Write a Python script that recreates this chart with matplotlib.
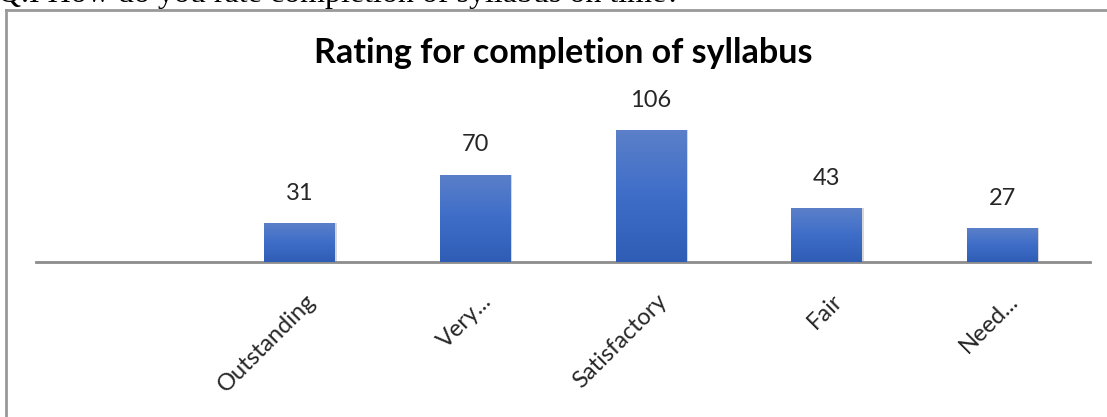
import matplotlib
matplotlib.use("Agg")
import matplotlib.pyplot as plt
import numpy as np
from matplotlib.lines import Line2D
from matplotlib.colors import LinearSegmentedColormap

categories = ["", "Outstanding", "Very...", "Satisfactory", "Fair", "Need..."]
values = [None, 31, 70, 106, 43, 27]
title = "Rating for completion of syllabus"
header = "Q.I How do you rate completion of syllabus on time?"

W, H = 1107, 417
fig = plt.figure(figsize=(W / 100, H / 100), dpi=100)
fig.patch.set_facecolor("white")

# axes placement in pixels
ax_left, ax_right = 36, 1090
base_y = 262
px_per_unit = 1.245
ymax = 150
top_y = base_y - ymax * px_per_unit
ax = fig.add_axes([ax_left / W, (H - base_y) / H, (ax_right - ax_left) / W, (base_y - top_y) / H])

x = np.arange(len(categories))
cmap = LinearSegmentedColormap.from_list("g", ["#2F5DB5", "#3E6DC8", "#5B80C9"])
grad = np.linspace(0, 1, 256).reshape(-1, 1)
bar_w = 0.4
for xi, v in zip(x, values):
    if v is None:
        continue
    # shadow
    ax.bar(xi + 0.012, v, width=bar_w, bottom=0, color="#b0b0b0", alpha=0.5, zorder=1)
    b = ax.bar(xi, v, width=bar_w, color="#3E6DC8", zorder=2)[0]
    im = ax.imshow(grad, cmap=cmap, aspect="auto", origin="lower",
                   extent=[xi - bar_w / 2, xi + bar_w / 2, 0, v], zorder=3)
    im.set_clip_path(b)
    ax.annotate(str(v), xy=(xi, v), xycoords="data", xytext=(0, 30),
                textcoords="offset pixels", ha="center", va="center",
                fontsize=17, family="Lato", color="#262626")

ax.set_xlim(-0.5, len(categories) - 0.5)
ax.set_ylim(0, ymax)
for s in ["top", "right", "left"]:
    ax.spines[s].set_visible(False)
ax.spines["bottom"].set_color("#8c8c8c")
ax.spines["bottom"].set_linewidth(2)
ax.set_yticks([])
ax.set_xticks(x)
ax.set_xticklabels([])
ax.tick_params(axis="x", length=0)
ax.patch.set_alpha(0)

for xi, lab in zip(x, categories):
    if not lab:
        continue
    ax.annotate(lab, xy=(xi, 0), xycoords="data", xytext=(13, -36),
                textcoords="offset pixels", ha="right", va="center",
                rotation=45, rotation_mode="anchor", fontsize=17,
                family="Lato", color="#262626")

fig.text(563 / W, 1 - 53 / H, title, ha="center", va="center",
         fontsize=24.5, fontweight="bold", family="Lato", color="black")

fig.text(-2 / W, 1 - 2 / H, header, ha="left", va="baseline",
         fontsize=23, family="Liberation Serif", color="black")

fig.add_artist(Line2D([6 / W, 1.0], [1 - 10 / H, 1 - 10 / H], color="#999999", lw=2,
                      transform=fig.transFigure))
fig.add_artist(Line2D([6 / W, 6 / W], [0, 1 - 10 / H], color="#999999", lw=2,
                      transform=fig.transFigure))

fig.savefig("out.png", dpi=100, facecolor="white")
